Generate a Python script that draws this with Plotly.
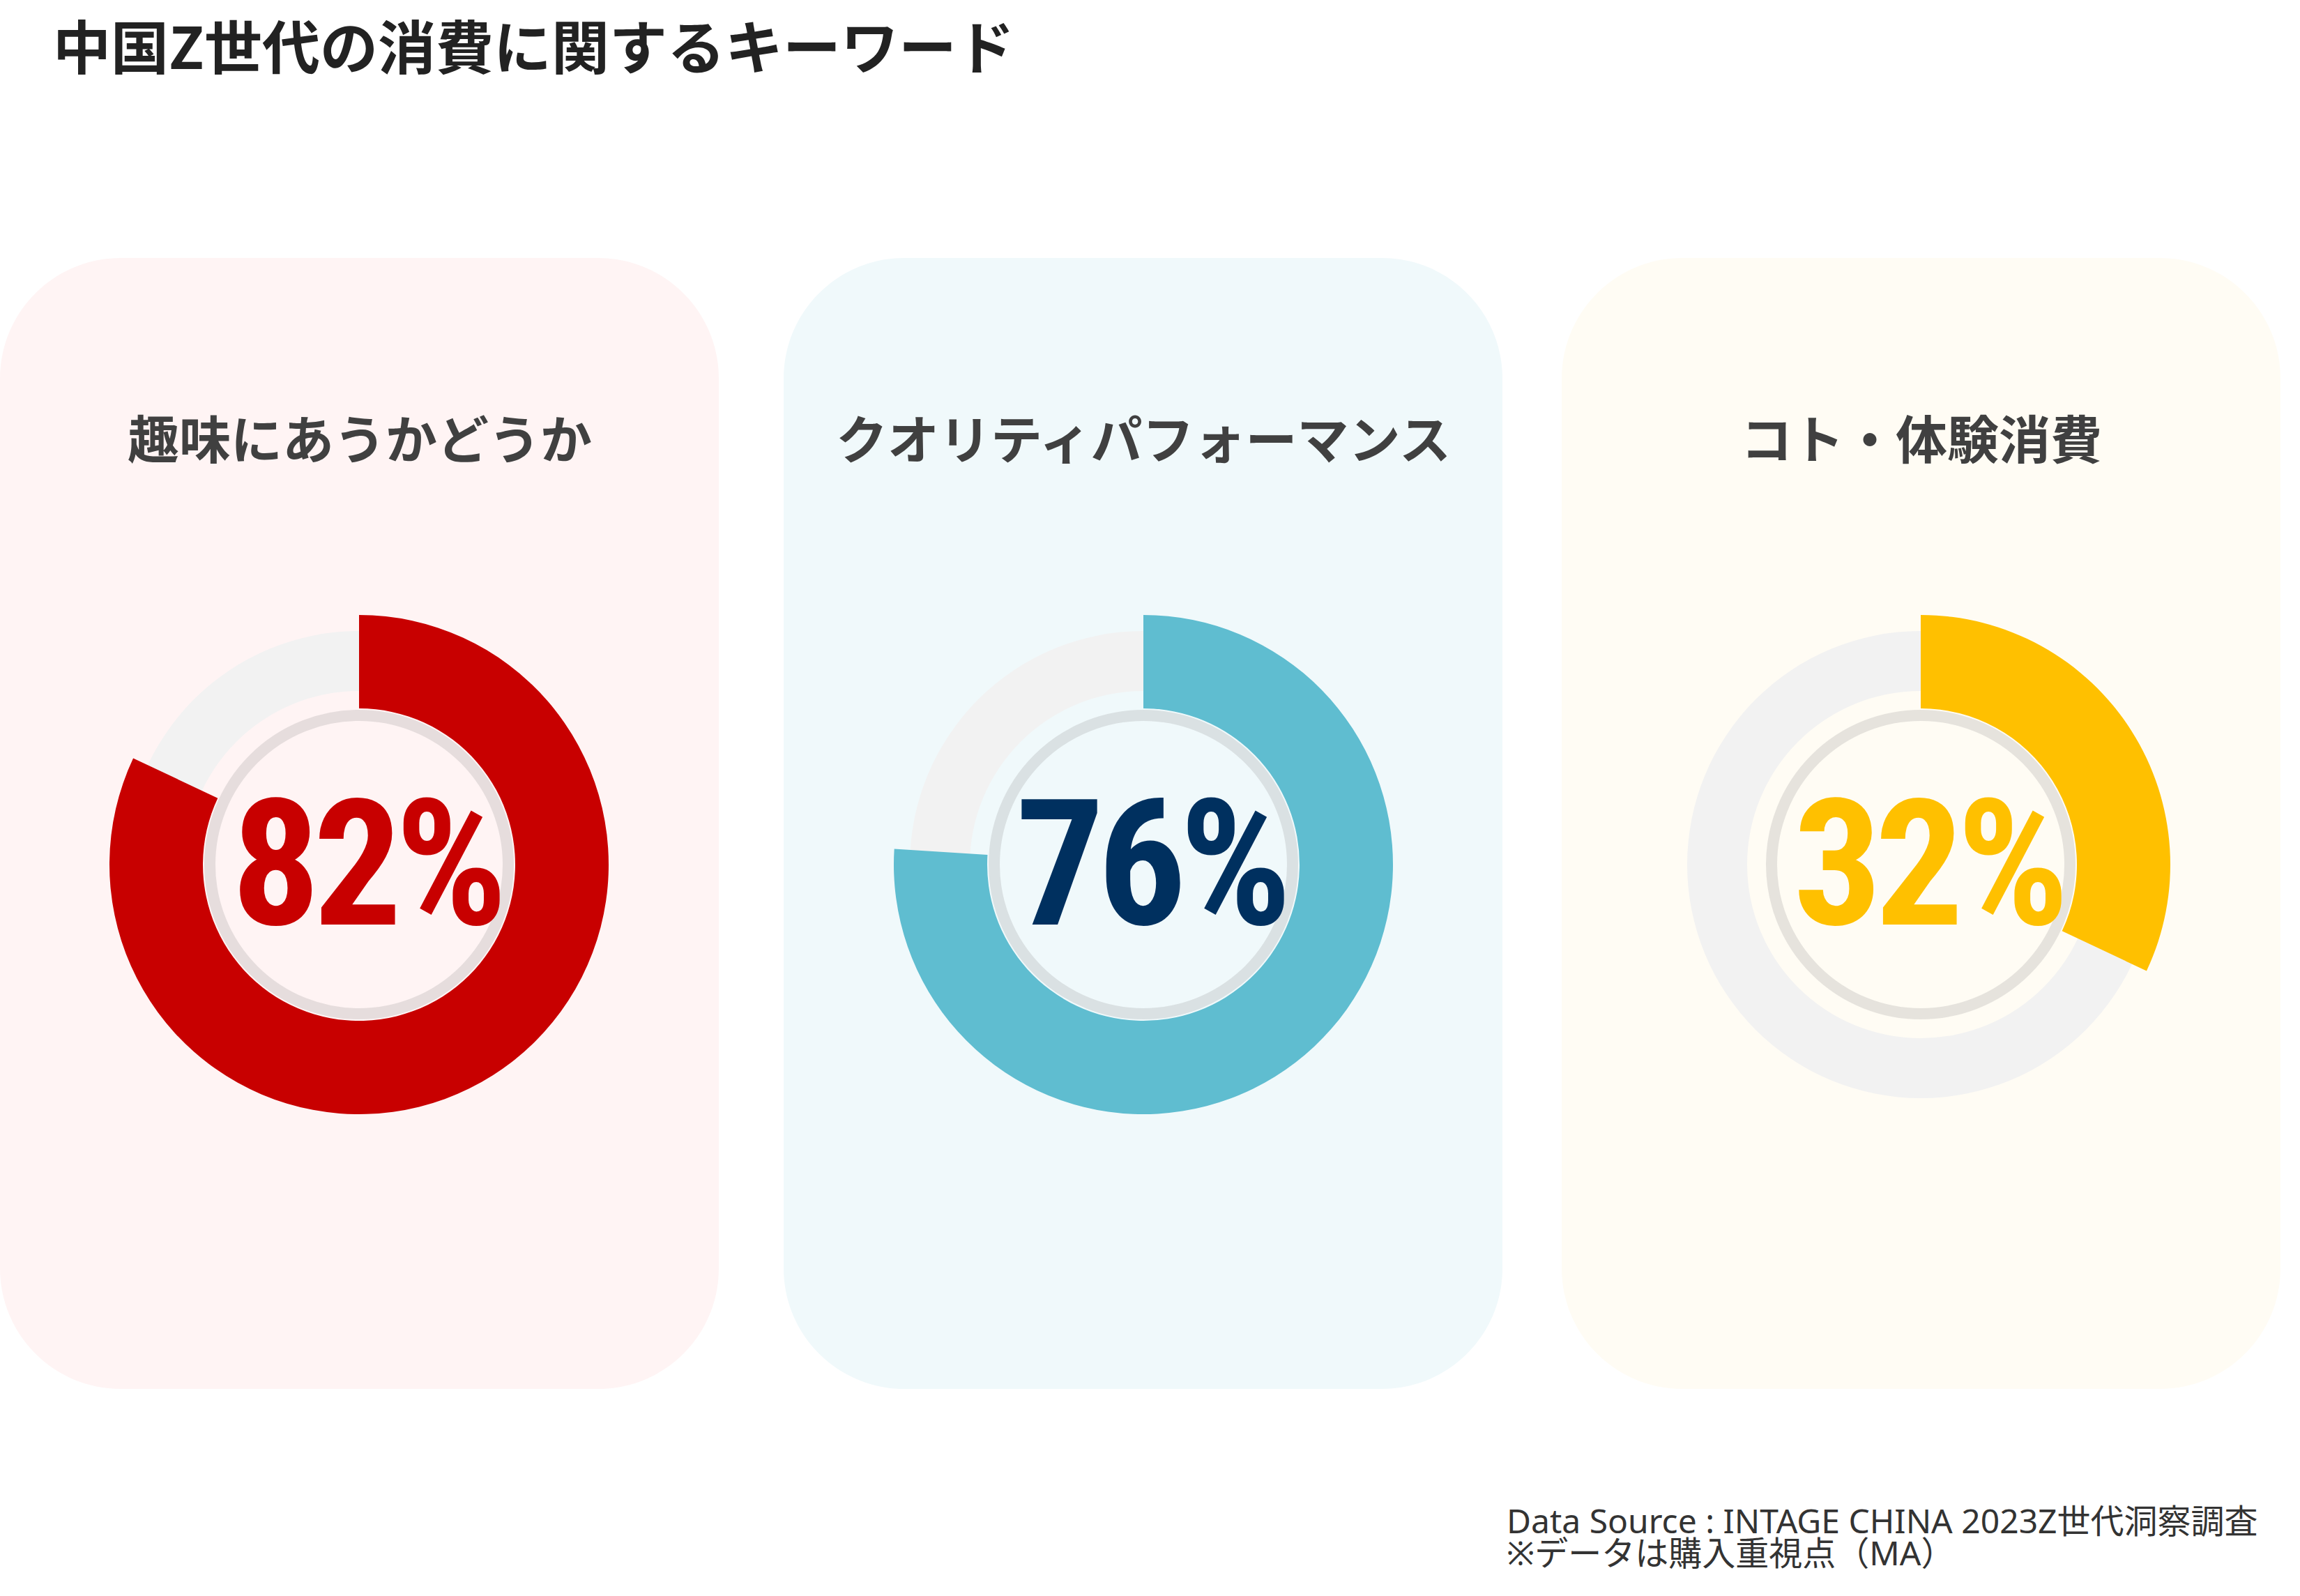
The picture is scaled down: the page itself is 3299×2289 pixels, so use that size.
import plotly.graph_objects as go

# ---- data ----
categories = ["趣味にあうかどうか", "クオリティパフォーマンス", "コト・体験消費"]
values = [82, 76, 32]
value_labels = ["82%", "76%", "32%"]
title_text = "中国Z世代の消費に関するキーワード"
source_lines = ["Data Source : INTAGE CHINA 2023Z世代洞察調査", "※データは購入重視点（MA）"]

# ---- styles ----
arc_colors = ["#C80000", "#5FBDD0", "#FFC000"]
label_colors = ["#C80000", "#00305F", "#FFC000"]
card_colors = ["#FFF4F4", "#F0F9FB", "#FFFCF4"]
track_color = "#F2F2F2"
ring_color = "rgba(140,140,140,0.22)"

W, H = 3299, 2289
card_x = [(0, 1031), (1124, 2155), (2240, 3271)]
card_top, card_bot, card_r = 370, 1992, 173
centers_x = [515, 1640, 2755]
cy = 1240
R_out, R_in = 358, 224
T_out, T_in = 335, 249
ring_r, ring_w = 214, 16

CJK = "Noto Sans CJK JP, Noto Sans, sans-serif"
CAP = "Noto Sans, Noto Sans CJK JP, sans-serif"
NUM = "Roboto Condensed, Roboto, sans-serif"

fig = go.Figure()


def dom(cx, r):
    return dict(x=[(cx - r) / W, (cx + r) / W],
                y=[1 - (cy + r) / H, 1 - (cy - r) / H])


for i, v in enumerate(values):
    cx = centers_x[i]
    fig.add_trace(go.Pie(values=[100], marker=dict(colors=[track_color], line=dict(width=0)),
                         hole=T_in / T_out, domain=dom(cx, T_out), sort=False,
                         textinfo="none", hoverinfo="skip", showlegend=False))
    fig.add_trace(go.Pie(values=[v, 100 - v],
                         marker=dict(colors=[arc_colors[i], "rgba(0,0,0,0)"], line=dict(width=0)),
                         hole=R_in / R_out, domain=dom(cx, R_out), sort=False,
                         direction="clockwise", rotation=0,
                         textinfo="none", hoverinfo="skip", showlegend=False))


def rounded_rect(x0, y0, x1, y1, r):
    k = 0.5523 * r
    return (f"M {x0 + r},{y0} L {x1 - r},{y0} "
            f"C {x1 - r + k},{y0} {x1},{y0 + r - k} {x1},{y0 + r} "
            f"L {x1},{y1 - r} "
            f"C {x1},{y1 - r + k} {x1 - r + k},{y1} {x1 - r},{y1} "
            f"L {x0 + r},{y1} "
            f"C {x0 + r - k},{y1} {x0},{y1 - r + k} {x0},{y1 - r} "
            f"L {x0},{y0 + r} "
            f"C {x0},{y0 + r - k} {x0 + r - k},{y0} {x0 + r},{y0} Z")


shapes = []
annotations = []
for i, cat in enumerate(categories):
    x0, x1 = card_x[i]
    shapes.append(dict(type="path", path=rounded_rect(x0, card_top, x1, card_bot, card_r),
                       xref="x", yref="y", fillcolor=card_colors[i],
                       line=dict(width=0), layer="below"))
    cx = centers_x[i]
    shapes.append(dict(type="circle", xref="x", yref="y",
                       x0=cx - ring_r, x1=cx + ring_r, y0=cy - ring_r, y1=cy + ring_r,
                       line=dict(color=ring_color, width=ring_w), layer="above"))
    annotations.append(dict(x=(x0 + x1) / 2, y=625, xref="x", yref="y", text=f"<b>{cat}</b>",
                            showarrow=False, xanchor="center", yanchor="middle",
                            font=dict(family=CJK, size=74, color="#404040")))
    annotations.append(dict(x=cx + 10, y=cy, xref="x", yref="y",
                            text=f'<span style="letter-spacing:-10px"><b>{value_labels[i]}</b></span>',
                            showarrow=False, xanchor="center", yanchor="middle",
                            font=dict(family=NUM, size=252, color=label_colors[i])))

annotations.append(dict(x=74, y=63, xref="x", yref="y", text=f"<b>{title_text}</b>",
                        showarrow=False, xanchor="left", yanchor="middle",
                        font=dict(family=CJK, size=83, color="#222222")))
for j, line in enumerate(source_lines):
    annotations.append(dict(x=2159, y=2180 + 46 * j, xref="x", yref="y", text=line,
                            showarrow=False, xanchor="left", yanchor="middle", align="left",
                            font=dict(family=CAP, size=48, color="#333333")))

fig.update_layout(
    width=W, height=H,
    margin=dict(l=0, r=0, t=0, b=0),
    paper_bgcolor="white", plot_bgcolor="rgba(0,0,0,0)",
    xaxis=dict(range=[0, W], visible=False, fixedrange=True, domain=[0, 1]),
    yaxis=dict(range=[H, 0], visible=False, fixedrange=True, domain=[0, 1]),
    shapes=shapes, annotations=annotations, showlegend=False,
)

fig.write_html("out.html")
